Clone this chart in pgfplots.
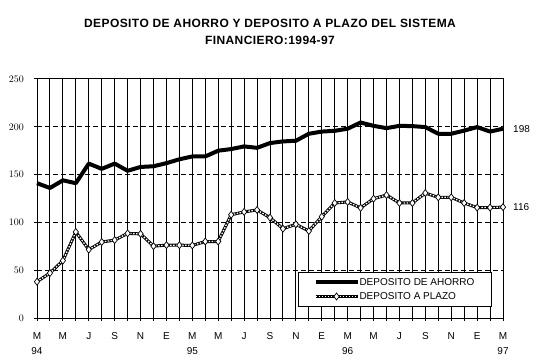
\documentclass[border=0pt]{standalone}
\usepackage{pgfplots}
\usepackage{pgfplotstable}
\pgfplotsset{compat=1.18}
\usepackage{fontspec}
\setmainfont{Liberation Sans}

\pgfplotsset{
  ahorroimg/.style={legend image code/.code={\path[draw=none,fill=none] (0bp,-7bp) rectangle (61bp,7bp); \draw[##1] (17bp,0bp) -- (59bp,0bp);}},
  plazoimg/.style={legend image code/.code={\path[draw=none,fill=none] (0bp,-7bp) rectangle (61bp,7bp);
    \draw[black, solid, line width=3bp] (17bp,0bp) -- (59bp,0bp);
    \draw[mark repeat=2, mark phase=2, ##1] plot coordinates {(17bp,0bp) (38bp,0bp) (59bp,0bp)};}},
}

\pgfplotstableread{
x y
0 141
1 136
2 144
3 141
4 161.5
5 156
6 161.5
7 154
8 158
9 158.7
10 162
11 166
12 169
13 169
14 175
15 176.7
16 179.5
17 178
18 183
19 184.7
20 185.4
21 192.7
22 195
23 195.8
24 198
25 204.5
26 201
27 198.6
28 201
29 200.7
30 199.7
31 192.7
32 192.7
33 196
34 199.7
35 195
36 198
}\ahorro

\pgfplotstableread{
x y
0 38
1 47
2 60
3 90
4 71.5
5 79.5
6 81.5
7 88.5
8 88
9 75.2
10 76.2
11 76.2
12 75.9
13 80
14 80
15 108
16 111
17 113
18 105
19 93.4
20 98
21 91
22 106
23 120.3
24 121.4
25 115.2
26 124.8
27 128.6
28 120.3
29 120.3
30 130.7
31 126.2
32 126.2
33 120.3
34 115.5
35 115.5
36 116
}\plazo

\begin{document}
\begin{tikzpicture}
\path[use as bounding box] (0bp,0bp) rectangle (543bp,364bp);
\begin{axis}[
  at={(37bp,46bp)}, anchor=south west,
  width=466bp, height=239bp, scale only axis,
  xmin=0, xmax=36, ymin=0, ymax=250,
  xtick={0,...,36}, ytick={0,50,...,250},
  xticklabels={{M\\[3bp]94},,M,,J,,S,,N,,E,,{M\\[3bp]95},,M,,J,,S,,N,,E,,{M\\[3bp]96},,M,,J,,S,,N,,E,,{M\\[3bp]97}},
  tick align=outside, major tick length=3bp, tick pos=left,
  xmajorgrids=true, ymajorgrids=true,
  x grid style={black, line width=1bp, solid},
  y grid style={black, line width=1bp, dash pattern=on 5bp off 3bp},
  axis line style={black, line width=1bp},
  tick style={black, line width=1bp},
  clip=false,
  tick label style={font=\fontsize{10bp}{12bp}\selectfont},
  xticklabel style={align=center, inner sep=0pt, anchor=north, yshift=-11bp},
  yticklabel style={inner sep=0pt, anchor=east, xshift=-10bp},
  title={DEPOSITO DE AHORRO Y DEPOSITO A PLAZO DEL SISTEMA\\FINANCIERO:1994-97},
  title style={at={(rel axis cs:0.5,1)}, anchor=north, yshift=54bp, inner sep=0pt, align=center,
    font=\fontsize{12bp}{17bp}\selectfont\bfseries\addfontfeature{LetterSpace=3.5}},
  legend style={at={(rel axis cs:0.5601,0.1925)}, anchor=north west, draw=black, line width=1bp,
    fill=white, inner xsep=0pt, inner ysep=3bp, row sep=0pt, column sep=0pt,
    nodes={inner sep=0pt, text depth=0pt}, font=\fontsize{10bp}{12bp}\selectfont},
  legend cell align=left,
]
\addplot[black, line width=4bp, line join=round, ahorroimg]
  table[x=x,y=y]{\ahorro};
\addlegendentry{\makebox[132bp][l]{DEPOSITO DE AHORRO}}
\addplot[black, line width=3bp, line join=round, forget plot] table[x=x,y=y]{\plazo};
\addplot[white, line width=1.3bp, dash pattern=on 1.5bp off 1.5bp,
  mark=diamond*, mark size=3.5bp, mark options={solid, draw=black, fill=white, line width=0.7bp},
  plazoimg]
  table[x=x,y=y]{\plazo};
\addlegendentry{\makebox[132bp][l]{DEPOSITO A PLAZO}}
\node[anchor=west, inner sep=0pt, font=\fontsize{10bp}{12bp}\selectfont] at (axis cs:36,198) [xshift=10bp] {198};
\node[anchor=west, inner sep=0pt, font=\fontsize{10bp}{12bp}\selectfont] at (axis cs:36,116) [xshift=10bp] {116};
\end{axis}
\end{tikzpicture}
\end{document}
